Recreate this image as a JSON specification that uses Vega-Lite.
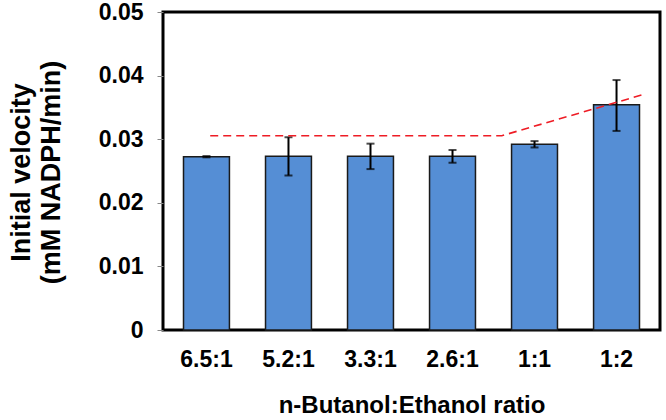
{
  "$schema": "https://vega.github.io/schema/vega-lite/v6.json",
  "width": 497,
  "height": 318,
  "autosize": {"type": "none"},
  "padding": {"left": 163, "top": 12, "right": 6, "bottom": 90},
  "background": "white",
  "config": {
    "view": {"stroke": "#000", "strokeWidth": 3},
    "font": "Liberation Sans"
  },
  "datasets": {
    "bars": [
      {"ratio": "6.5:1", "v": 0.02725, "lo": 0.02715, "hi": 0.02735},
      {"ratio": "5.2:1", "v": 0.0273, "lo": 0.0243, "hi": 0.0303},
      {"ratio": "3.3:1", "v": 0.0273, "lo": 0.0253, "hi": 0.0293},
      {"ratio": "2.6:1", "v": 0.0273, "lo": 0.0263, "hi": 0.0283},
      {"ratio": "1:1", "v": 0.0292, "lo": 0.0287, "hi": 0.0297},
      {"ratio": "1:2", "v": 0.0354, "lo": 0.0313, "hi": 0.0393}
    ],
    "trend": [
      {"pos": 0.57, "t": 0.03055},
      {"pos": 4.09, "t": 0.03055},
      {"pos": 5.79, "t": 0.0370}
    ]
  },
  "layer": [
    {
      "data": {"name": "bars"},
      "layer": [
        {
          "mark": {"type": "bar", "fill": "#558ED5", "stroke": "#1a1a1a", "strokeWidth": 1.5},
          "encoding": {
            "x": {
              "field": "ratio", "type": "nominal", "sort": null,
              "scale": {"paddingInner": 0.44, "paddingOuter": 0.25},
              "axis": {
                "title": "n-Butanol:Ethanol ratio",
                "labelAngle": 0, "labelFontSize": 23, "labelFontWeight": "bold", "labelColor": "#000",
                "labelPadding": 18, "ticks": false, "domain": false,
                "titleFontSize": 24, "titleFontWeight": "bold", "titleColor": "#000", "titlePadding": 22
              }
            },
            "y": {
              "field": "v", "type": "quantitative",
              "scale": {"domain": [0, 0.05], "nice": false},
              "axis": {
                "title": ["Initial velocity", "(mM NADPH/min)"],
                "values": [0, 0.01, 0.02, 0.03, 0.04, 0.05],
                "format": "~g",
                "grid": false, "domain": false,
                "tickColor": "#888", "tickSize": 6, "tickWidth": 1,
                "labelFontSize": 23, "labelFontWeight": "bold", "labelColor": "#000", "labelPadding": 14,
                "titleFontSize": 27, "titleFontWeight": "bold", "titleColor": "#000",
                "titleLineHeight": 30, "titleX": -128, "titleY": 160, "titleBaseline": "bottom"
              }
            }
          }
        },
        {
          "mark": {"type": "rule", "color": "#000", "strokeWidth": 2},
          "encoding": {
            "x": {"field": "ratio", "type": "nominal", "sort": null},
            "y": {"field": "lo", "type": "quantitative"},
            "y2": {"field": "hi"}
          }
        },
        {
          "mark": {"type": "tick", "color": "#000", "thickness": 2, "size": 8, "orient": "horizontal"},
          "encoding": {
            "x": {"field": "ratio", "type": "nominal", "sort": null},
            "y": {"field": "lo", "type": "quantitative"}
          }
        },
        {
          "mark": {"type": "tick", "color": "#000", "thickness": 2, "size": 8, "orient": "horizontal"},
          "encoding": {
            "x": {"field": "ratio", "type": "nominal", "sort": null},
            "y": {"field": "hi", "type": "quantitative"}
          }
        }
      ]
    },
    {
      "data": {"name": "trend"},
      "mark": {"type": "line", "color": "#EE1C25", "strokeWidth": 1.6, "strokeDash": [8, 5]},
      "encoding": {
        "x": {"field": "pos", "type": "quantitative", "scale": {"domain": [0, 6], "nice": false}, "axis": null},
        "y": {"field": "t", "type": "quantitative"}
      }
    }
  ],
  "resolve": {"scale": {"x": "independent"}}
}
